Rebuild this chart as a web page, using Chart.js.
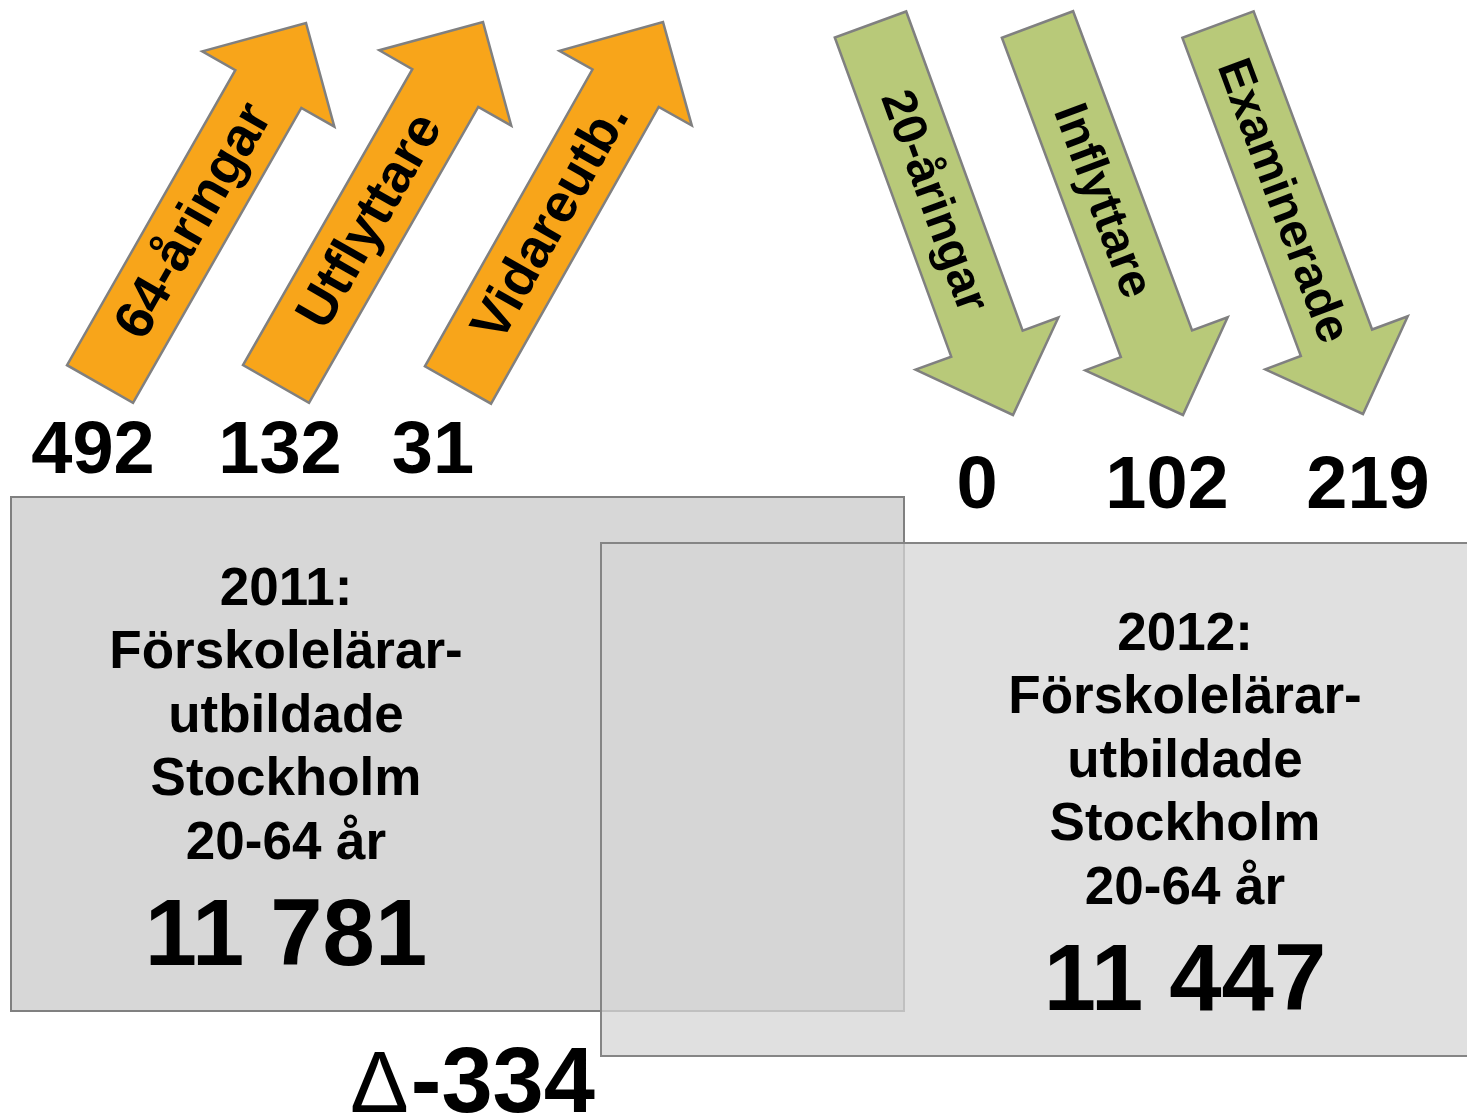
<!DOCTYPE html>
<html>
<head>
<meta charset="utf-8">
<script src="https://cdn.jsdelivr.net/npm/chart.js@4.4.1/dist/chart.umd.min.js"></script>
<style>
  html, body { margin: 0; padding: 0; background: #ffffff; }
  #wrap { width: 1467px; height: 1117px; }
</style>
</head>
<body>
<div id="wrap"><canvas id="c" width="1467" height="1117"></canvas></div>
<script>
// ---------------- DATA ----------------
const outflowLabels = ['64-åringar', 'Utflyttare', 'Vidareutb.'];
const outflowValues = [492, 132, 31];
const inflowLabels  = ['20-åringar', 'Inflyttare', 'Examinerade'];
const inflowValues  = [0, 102, 219];
const yearLabels    = ['2011', '2012'];
const stockValues   = [11781, 11447];
const boxCaption    = ['Förskolelärar-', 'utbildade', 'Stockholm', '20-64 år'];
const changeValue   = stockValues[1] - stockValues[0];

// ---------------- LAYOUT (diagram geometry, in scale units) ----------------
const layout = {
  outArrows: [ {tail:[100,384], tip:[306,23]}, {tail:[276,384], tip:[483,22]}, {tail:[458,385], tip:[663,22]} ],
  inArrows:  [ {tail:[870.5,24.5], tip:[1013,415]}, {tail:[1037.5,24.5], tip:[1183,415]}, {tail:[1218,24.5], tip:[1363,414]} ],
  shaftW: 76, headW: 152, headL: 76, labelPos: 188,
  outNums: { x:[93,280,433], y:473 },
  inNums:  { x:[977,1167,1368], y:508 },
  boxes: [
    { x0:11, y0:497, x1:904, y1:1011, tx:286, firstBase:605, bigBase:965, fill:'#d7d7d7', stroke:'#808080' },
    { x0:601, y0:543, x1:1475, y1:1056, tx:1185, firstBase:650, bigBase:1010, fill:'rgba(214,214,214,0.75)', stroke:'#858585' }
  ],
  lineStep: 63.4,
  delta: { x:350, y:1112 }
};
const style = {
  orange: '#f8a51a', green: '#b8c979', arrowStroke: '#808080',
  font: '"Liberation Sans", Arial, Helvetica, sans-serif'
};

function fmtThousands(v) {
  const s = Math.abs(v).toString().replace(/\B(?=(\d{3})+(?!\d))/g, ' ');
  return (v < 0 ? '-' : '') + s;
}

const diagramPlugin = {
  id: 'diagram',
  afterDraw(chart) {
    const ctx = chart.ctx;
    const sx = chart.scales.x, sy = chart.scales.y;
    const X = v => sx.getPixelForValue(v);
    const Y = v => sy.getPixelForValue(v);
    const unit = Math.abs(X(1) - X(0));

    function arrow(a, fill, label, fontPx) {
      const tx = X(a.tail[0]), ty = Y(a.tail[1]);
      const px = X(a.tip[0]),  py = Y(a.tip[1]);
      const dx = px - tx, dy = py - ty, L = Math.hypot(dx, dy);
      const ux = dx / L, uy = dy / L, nx = -uy, ny = ux;
      const w = layout.shaftW * unit / 2, hw = layout.headW * unit / 2, hl = layout.headL * unit;
      const hx = px - ux * hl, hy = py - uy * hl;
      ctx.save();
      ctx.beginPath();
      ctx.moveTo(tx + nx * w, ty + ny * w);
      ctx.lineTo(hx + nx * w, hy + ny * w);
      ctx.lineTo(hx + nx * hw, hy + ny * hw);
      ctx.lineTo(px, py);
      ctx.lineTo(hx - nx * hw, hy - ny * hw);
      ctx.lineTo(hx - nx * w, hy - ny * w);
      ctx.lineTo(tx - nx * w, ty - ny * w);
      ctx.closePath();
      ctx.fillStyle = fill;
      ctx.fill();
      ctx.lineWidth = 2.5;
      ctx.strokeStyle = style.arrowStroke;
      ctx.lineJoin = 'miter';
      ctx.stroke();
      // label along the shaft
      const d = layout.labelPos * unit;
      ctx.translate(tx + ux * d, ty + uy * d);
      ctx.rotate(Math.atan2(uy, ux));
      ctx.fillStyle = '#000';
      ctx.font = 'bold ' + fontPx + 'px ' + style.font;
      ctx.textAlign = 'center';
      ctx.textBaseline = 'middle';
      ctx.fillText(label, 0, 2);
      ctx.restore();
    }

    function box(b, yearIdx) {
      ctx.save();
      ctx.fillStyle = b.fill;
      ctx.fillRect(X(b.x0), Y(b.y0), X(b.x1) - X(b.x0), Y(b.y1) - Y(b.y0));
      ctx.lineWidth = 2;
      ctx.strokeStyle = b.stroke;
      ctx.strokeRect(X(b.x0), Y(b.y0), X(b.x1) - X(b.x0), Y(b.y1) - Y(b.y0));
      ctx.fillStyle = '#000';
      ctx.textAlign = 'center';
      ctx.textBaseline = 'alphabetic';
      ctx.font = 'bold 53px ' + style.font;
      const lines = [yearLabels[yearIdx] + ':'].concat(boxCaption);
      lines.forEach((t, i) => ctx.fillText(t, X(b.tx), Y(b.firstBase + i * layout.lineStep)));
      ctx.font = 'bold 94px ' + style.font;
      ctx.fillText(fmtThousands(stockValues[yearIdx]), X(b.tx), Y(b.bigBase));
      ctx.restore();
    }

    // arrows
    layout.outArrows.forEach((a, i) => arrow(a, style.orange, outflowLabels[i], 54));
    layout.inArrows.forEach((a, i) => arrow(a, style.green, inflowLabels[i], 48));

    // numbers under arrows
    ctx.save();
    ctx.fillStyle = '#000';
    ctx.textAlign = 'center';
    ctx.textBaseline = 'alphabetic';
    ctx.font = 'bold 74px ' + style.font;
    outflowValues.forEach((v, i) => ctx.fillText(fmtThousands(v), X(layout.outNums.x[i]), Y(layout.outNums.y)));
    inflowValues.forEach((v, i) => ctx.fillText(fmtThousands(v), X(layout.inNums.x[i]), Y(layout.inNums.y)));
    ctx.restore();

    // boxes
    layout.boxes.forEach((b, i) => box(b, i));

    // delta
    ctx.save();
    ctx.fillStyle = '#000';
    ctx.textAlign = 'left';
    ctx.textBaseline = 'alphabetic';
    ctx.font = '88px ' + style.font;
    const dx0 = X(layout.delta.x), dy0 = Y(layout.delta.y);
    ctx.fillText('\u0394', dx0, dy0);
    const dw = ctx.measureText('\u0394').width;
    ctx.font = 'bold 92px ' + style.font;
    ctx.fillText(fmtThousands(changeValue), dx0 + dw + 2, dy0);
    ctx.restore();
  }
};

new Chart(document.getElementById('c').getContext('2d'), {
  type: 'scatter',
  data: { datasets: [{ data: [], pointRadius: 0 }] },
  options: {
    responsive: false,
    animation: false,
    devicePixelRatio: 1,
    layout: { padding: 0 },
    plugins: { legend: { display: false }, tooltip: { enabled: false }, title: { display: false } },
    scales: {
      x: { type: 'linear', min: 0, max: 1467, display: false },
      y: { type: 'linear', min: 0, max: 1117, reverse: true, display: false }
    }
  },
  plugins: [diagramPlugin]
});
</script>
</body>
</html>
